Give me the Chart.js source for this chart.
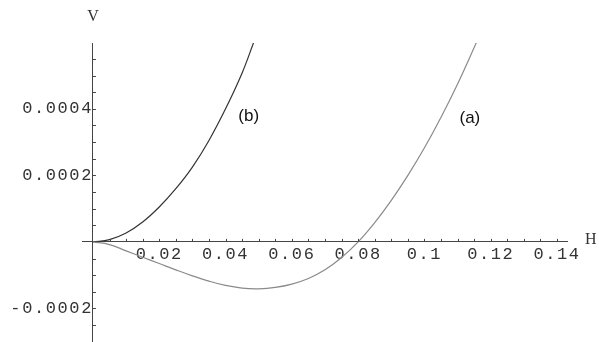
<!DOCTYPE html>
<html>
<head>
<meta charset="utf-8">
<script src="https://cdn.jsdelivr.net/npm/chart.js@4"></script>
<style>
  html, body { margin: 0; padding: 0; background: #fff; }
  #wrap { width: 599px; height: 342px; position: relative; }
</style>
</head>
<body>
<div id="wrap"><canvas id="plot"></canvas></div>
<script>
// curve (a) - light grey
const H_A = [0, 0.005, 0.01, 0.015, 0.02, 0.025, 0.03, 0.035, 0.04, 0.045, 0.05, 0.055,
             0.06, 0.065, 0.07, 0.075, 0.08, 0.085, 0.09, 0.095, 0.1, 0.105, 0.11, 0.1157];
const V_A = [0, -0.000008, -0.000027, -0.000046, -0.000065, -0.000084, -0.000102, -0.000118,
             -0.000131, -0.000139, -0.000141, -0.000137, -0.000127, -0.00011, -0.000084, -0.000047,
             0, 0.000058, 0.000125, 0.0002, 0.000283, 0.000375, 0.000475, 0.0006];

// curve (b) - dark
const H_B = [0, 0.005, 0.01, 0.015, 0.02, 0.025, 0.03, 0.035, 0.04, 0.045, 0.0485];
const V_B = [0, 0.000007, 0.000027, 0.00006, 0.000105, 0.00016, 0.000225, 0.000305, 0.0004, 0.000508, 0.0006];

// axis ticks
const X_TICKS = [0.02, 0.04, 0.06, 0.08, 0.1, 0.12, 0.14];
const X_LABELS = ['0.02', '0.04', '0.06', '0.08', '0.1', '0.12', '0.14'];
const Y_TICKS = [-0.0002, 0.0002, 0.0004];
const Y_LABELS = ['-0.0002', '0.0002', '0.0004'];

// curve names placed in data coords
const CURVE_NAMES = ['(a)', '(b)'];
const NAME_H = [0.1137, 0.047];
const NAME_V = [0.000373, 0.000379];

const toPts = (hs, vs) => hs.map((h, i) => ({ x: h, y: vs[i] }));

const monoFont = { family: '"Liberation Mono", "Courier New", monospace', size: 17, lineHeight: 1 };

// axes sit inside the plot, so they should not ask for extra room
const noPad = (s) => { s.paddingTop = s.paddingBottom = s.paddingLeft = s.paddingRight = 0; };

// Mathematica style: small tick marks on the positive side of each axis
const axisTicks = {
    id: 'axisTicks',
    beforeDraw(chart) {
        chart.ctx.letterSpacing = '1.6px';
    },
    afterDraw(chart) {
        const ctx = chart.ctx;
        const xs = chart.scales.x, ys = chart.scales.y;
        const x0 = xs.getPixelForValue(0), y0 = ys.getPixelForValue(0);
        ctx.save();
        ctx.letterSpacing = '0px';
        ctx.strokeStyle = '#444';
        ctx.lineWidth = 1;
        ctx.beginPath();
        for (let k = 1; k <= 28; k++) {
            const px = Math.round(xs.getPixelForValue(k * 0.005)) + 0.5;
            ctx.moveTo(px, y0);
            ctx.lineTo(px, y0 - 3);
        }
        for (let k = -5; k <= 11; k++) {
            if (k === 0) continue;
            const py = Math.round(ys.getPixelForValue(k * 0.00005)) + 0.5;
            ctx.moveTo(x0, py);
            ctx.lineTo(x0 + 3, py);
        }
        ctx.stroke();

        // axis names
        ctx.fillStyle = '#333';
        ctx.font = '16px "Liberation Serif", "Times New Roman", serif';
        ctx.textAlign = 'center';
        ctx.textBaseline = 'middle';
        ctx.fillText('V', x0, 17);
        ctx.textAlign = 'left';
        ctx.fillText('H', xs.right + 18, y0 - 2);

        // curve names
        ctx.fillStyle = '#111';
        ctx.font = '17px "Liberation Sans", Arial, sans-serif';
        ctx.textAlign = 'center';
        CURVE_NAMES.forEach((t, i) => {
            ctx.fillText(t, xs.getPixelForValue(NAME_H[i]), ys.getPixelForValue(NAME_V[i]));
        });
        ctx.restore();
    }
};

new Chart(document.getElementById('plot'), {
    type: 'scatter',
    data: {
        datasets: [
            { label: '(a)', data: toPts(H_A, V_A), showLine: true, borderColor: '#8a8a8a', borderWidth: 1.2,
              pointRadius: 0, tension: 0.4 },
            { label: '(b)', data: toPts(H_B, V_B), showLine: true, borderColor: '#333', borderWidth: 1.2,
              pointRadius: 0, tension: 0.4 }
        ]
    },
    options: {
        responsive: true,
        maintainAspectRatio: false,
        animation: false,
        layout: { padding: { left: 82, right: 32, top: 43, bottom: 1 } },
        plugins: { legend: { display: false }, tooltip: { enabled: false } },
        scales: {
            x: {
                type: 'linear', min: -0.0033, max: 0.143,
                position: { y: 0 },
                grid: { display: false, drawTicks: false },
                border: { display: true, color: '#444', width: 1 },
                afterBuildTicks: (s) => { s.ticks = X_TICKS.map(v => ({ value: v })); },
                afterFit: noPad,
                ticks: {
                    autoSkip: false, maxRotation: 0, padding: 4, color: '#333', font: monoFont,
                    callback: (v) => X_LABELS[X_TICKS.indexOf(v)]
                }
            },
            y: {
                type: 'linear', min: -0.000298, max: 0.000598,
                position: { x: 0 },
                grid: { display: false, drawTicks: false },
                border: { display: true, color: '#444', width: 1 },
                afterBuildTicks: (s) => { s.ticks = Y_TICKS.map(v => ({ value: v })); },
                afterFit: noPad,
                ticks: {
                    autoSkip: false, padding: 4, color: '#333', font: monoFont,
                    callback: (v) => Y_LABELS[Y_TICKS.indexOf(v)]
                }
            }
        }
    },
    plugins: [axisTicks]
});
</script>
</body>
</html>
